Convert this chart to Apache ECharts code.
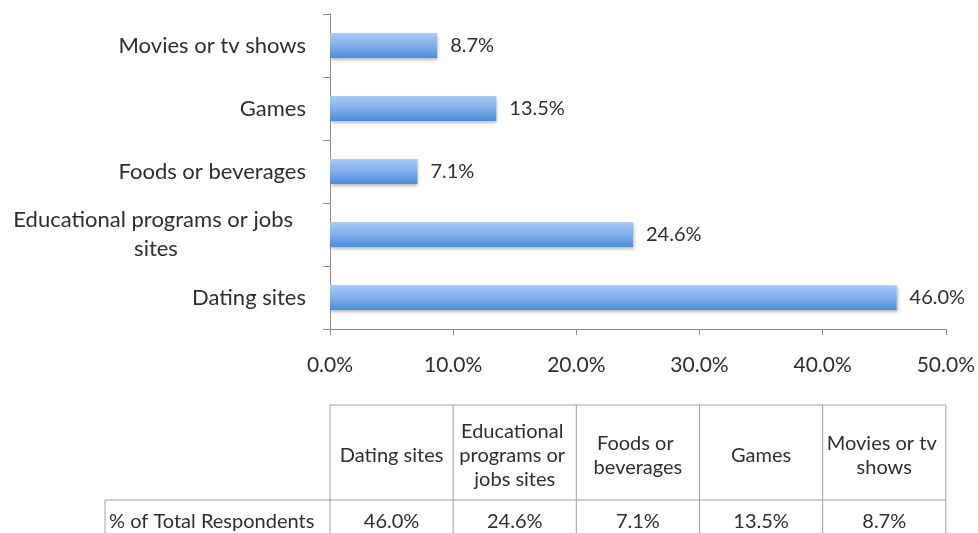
<!DOCTYPE html>
<html>
<head>
<meta charset="utf-8">
<script src="https://cdn.jsdelivr.net/npm/echarts@6/dist/echarts.min.js"></script>
<style>
  html, body { margin: 0; padding: 0; background: #fff; }
  #chart { width: 978px; height: 533px; }
</style>
</head>
<body>
<div id="chart"></div>
<script>
// Categories, bottom to top on the bar chart (table reads left to right in the same order)
const categories = [
  'Dating sites',
  'Educational programs or jobs sites',
  'Foods or beverages',
  'Games',
  'Movies or tv shows'
];
// Share of total respondents, percent
const shares = [46.0, 24.6, 7.1, 13.5, 8.7];
// Value-axis tick labels
const xTicks = ['0.0%', '10.0%', '20.0%', '30.0%', '40.0%', '50.0%'];
const rowLabel = '% of Total Respondents';

const FONT = 'Lato';
const TEXT = '#2e2e2e';
const LINE = '#8c8c8c';

const chart = echarts.init(document.getElementById('chart'), null, { renderer: 'canvas' });

const option = {
  backgroundColor: '#ffffff',
  animation: false,
  grid: { left: 330, right: 30, top: 14, bottom: 204, containLabel: false },
  xAxis: {
    type: 'value',
    min: 0,
    max: 50,
    interval: 10,
    axisLine: { show: true, lineStyle: { color: LINE, width: 1 } },
    axisTick: { show: true, inside: false, length: 6, lineStyle: { color: LINE } },
    splitLine: { show: false },
    axisLabel: {
      margin: 26,
      color: TEXT,
      fontFamily: FONT,
      fontSize: 21,
      formatter: (v) => xTicks[Math.round(v / 10)]
    }
  },
  yAxis: {
    type: 'category',
    data: categories,
    axisLine: { show: true, lineStyle: { color: LINE, width: 1 } },
    axisTick: { show: true, length: 7, alignWithLabel: false, lineStyle: { color: LINE } },
    axisLabel: {
      margin: 24,
      color: TEXT,
      fontFamily: FONT,
      fontSize: 22,
      lineHeight: 29,
      width: 300,
      overflow: 'break',
      formatter: (v) => v.length > 28 ? '{c|' + v + '}' : v,
      rich: { c: { align: 'center', fontFamily: FONT, fontSize: 22, color: TEXT, lineHeight: 29 } }
    }
  },
  series: [{
    type: 'bar',
    data: shares,
    barWidth: 25,
    itemStyle: {
      color: new echarts.graphic.LinearGradient(0, 0, 0, 1, [
        { offset: 0, color: '#a9cbf4' },
        { offset: 0.5, color: '#7fb0ec' },
        { offset: 1, color: '#4b8bd8' }
      ]),
      shadowColor: 'rgba(0,0,0,0.28)',
      shadowBlur: 3,
      shadowOffsetX: 1,
      shadowOffsetY: 2
    },
    label: {
      show: true,
      position: 'right',
      distance: 13,
      color: TEXT,
      fontFamily: FONT,
      fontSize: 20,
      formatter: (p) => p.value.toFixed(1) + '%'
    }
  }]
};
chart.setOption(option);

// Data table under the plot: columns share the plot's width
function buildTable() {
  const x0 = chart.convertToPixel({ xAxisIndex: 0 }, 0);
  const x1 = chart.convertToPixel({ xAxisIndex: 0 }, 50);
  const colW = (x1 - x0) / categories.length;
  const top = 405;
  const headH = 95;
  const rowH = 46;
  const labelLeft = 105;
  const els = [];
  const stroke = { stroke: '#a0a0a0', lineWidth: 1 };

  // header row (no cell above the row-label column)
  els.push({ type: 'line', shape: { x1: x0, y1: top, x2: x1, y2: top }, style: stroke, silent: true });
  els.push({ type: 'line', shape: { x1: labelLeft, y1: top + headH, x2: x1, y2: top + headH }, style: stroke, silent: true });
  els.push({ type: 'line', shape: { x1: labelLeft, y1: top + headH + rowH, x2: x1, y2: top + headH + rowH }, style: stroke, silent: true });
  els.push({ type: 'line', shape: { x1: labelLeft, y1: top + headH, x2: labelLeft, y2: top + headH + rowH }, style: stroke, silent: true });
  for (let i = 0; i <= categories.length; i++) {
    const x = x0 + i * colW;
    els.push({ type: 'line', shape: { x1: x, y1: top, x2: x, y2: top + headH + rowH }, style: stroke, silent: true });
  }
  categories.forEach((name, i) => {
    const cx = x0 + (i + 0.5) * colW;
    els.push({
      type: 'text', silent: true,
      x: cx, y: top + headH / 2 + 3,
      style: {
        text: name, width: colW - 6, overflow: 'break',
        align: 'center', verticalAlign: 'middle',
        fontFamily: FONT, fontSize: 20, lineHeight: 24, fill: TEXT
      }
    });
    els.push({
      type: 'text', silent: true,
      x: cx, y: top + headH + 22,
      style: {
        text: shares[i].toFixed(1) + '%',
        align: 'center', verticalAlign: 'middle',
        fontFamily: FONT, fontSize: 20, fill: TEXT
      }
    });
  });
  els.push({
    type: 'text', silent: true,
    x: labelLeft + 4, y: top + headH + 22,
    style: {
      text: rowLabel, align: 'left', verticalAlign: 'middle',
      fontFamily: FONT, fontSize: 20, fill: TEXT
    }
  });
  chart.setOption({ graphic: els });
}
buildTable();
</script>
</body>
</html>
